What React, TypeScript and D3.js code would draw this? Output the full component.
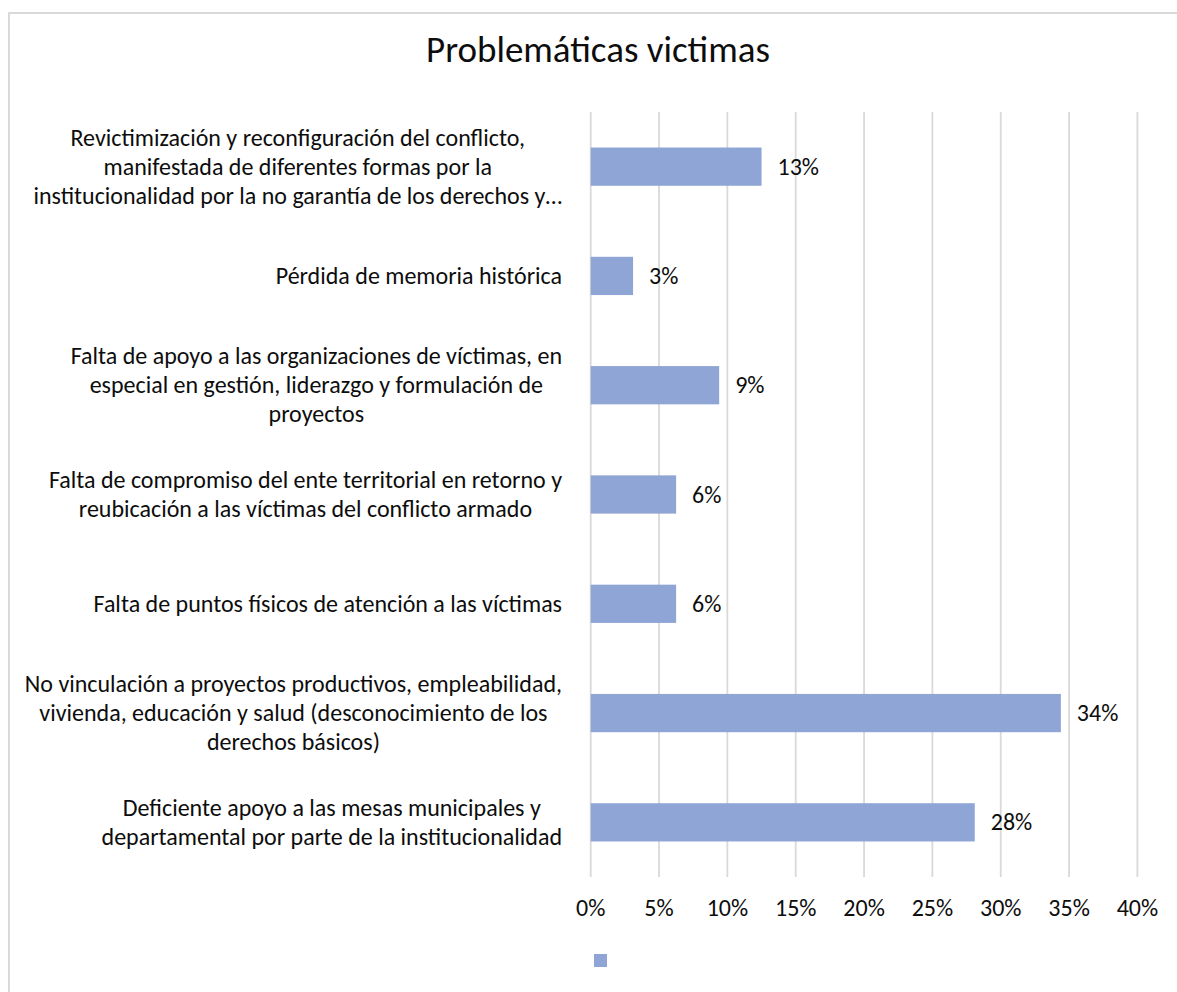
import React, { useRef, useEffect } from 'react';
import * as d3 from 'd3';

const title = 'Problemáticas victimas';

// each category is kept as the wrapped lines shown on the chart
const categories = [
  ['Revictimización y reconfiguración del conflicto,', 'manifestada de diferentes formas por la', 'institucionalidad por la no garantía de los derechos y…'],
  ['Pérdida de memoria histórica'],
  ['Falta de apoyo a las organizaciones de víctimas, en', 'especial en gestión, liderazgo y formulación de', 'proyectos'],
  ['Falta de compromiso del ente territorial en retorno y', 'reubicación a las víctimas del conflicto armado'],
  ['Falta de puntos físicos de atención a las víctimas'],
  ['No vinculación a proyectos productivos, empleabilidad,', 'vivienda, educación y salud (desconocimiento de los', 'derechos básicos)'],
  ['Deficiente apoyo a las mesas municipales y', 'departamental por parte de la institucionalidad'],
];

const values = [12.5, 3.1, 9.4, 6.25, 6.25, 34.4, 28.1];

const xTicks = [0, 5, 10, 15, 20, 25, 30, 35, 40];

const FONT = 'Carlito, Calibri, Lato, sans-serif';
const TEXT = '#0d0d0d';
const GRID = '#d9d9d9';
const BAR = '#8fa5d5';

const App = () => {
  const svgRef = useRef(null);

  useEffect(() => {
    const width = 1177;
    const height = 992;
    const svg = d3.select(svgRef.current).attr('width', width).attr('height', height);
    svg.selectAll('*').remove();

    const plotTop = 112;
    const plotBottom = 877;

    const x = d3.scaleLinear().domain([0, 40]).range([590.7, 1137.4]);
    const y = d3.scaleBand<number>()
      .domain(d3.range(categories.length))
      .range([plotTop, plotBottom])
      .paddingInner(0.65)
      .paddingOuter(0.325);

    // chart frame
    svg.append('rect')
      .attr('x', 9).attr('y', 13)
      .attr('width', 1185).attr('height', 1000)
      .attr('fill', '#fff')
      .attr('stroke', GRID)
      .attr('stroke-width', 2);

    svg.append('text')
      .attr('x', 598)
      .attr('y', 62)
      .attr('text-anchor', 'middle')
      .attr('font-family', FONT)
      .attr('font-size', 37)
      .attr('fill', TEXT)
      .text(title);

    // vertical gridlines
    svg.append('g')
      .selectAll('line')
      .data(xTicks)
      .enter()
      .append('line')
      .attr('x1', d => x(d)).attr('x2', d => x(d))
      .attr('y1', plotTop).attr('y2', plotBottom)
      .attr('stroke', GRID)
      .attr('stroke-width', 1.8);

    // tick labels
    svg.append('g')
      .selectAll('text')
      .data(xTicks)
      .enter()
      .append('text')
      .attr('x', d => x(d))
      .attr('y', 916)
      .attr('text-anchor', 'middle')
      .attr('font-family', FONT)
      .attr('font-size', 24)
      .attr('fill', TEXT)
      .text(d => `${d}%`);

    // bars
    svg.append('g')
      .selectAll('rect')
      .data(values)
      .enter()
      .append('rect')
      .attr('x', x(0))
      .attr('y', (d, i) => y(i))
      .attr('width', d => x(d) - x(0))
      .attr('height', y.bandwidth())
      .attr('fill', BAR);

    // value labels
    svg.append('g')
      .selectAll('text')
      .data(values)
      .enter()
      .append('text')
      .attr('x', d => x(d) + 16)
      .attr('y', (d, i) => y(i) + y.bandwidth() / 2 + 8)
      .attr('font-family', FONT)
      .attr('font-size', 24)
      .attr('fill', TEXT)
      .text(d => `${Math.round(d)}%`);

    // category labels: lines centred in a block that is right aligned
    const labelRight = 562;
    const lineGap = 29;
    categories.forEach((lines, i) => {
      const cy = y(i) + y.bandwidth() / 2;
      const g = svg.append('g');
      const texts = g.selectAll('text')
        .data(lines)
        .enter()
        .append('text')
        .attr('x', 0)
        .attr('y', (d, j) => cy + 8 + (j - (lines.length - 1) / 2) * lineGap)
        .attr('text-anchor', 'middle')
        .attr('font-family', FONT)
        .attr('font-size', 24)
        .attr('fill', TEXT)
        .text(d => d);
      let maxW = 0;
      texts.each(function () {
        maxW = Math.max(maxW, (this as SVGTextElement).getComputedTextLength());
      });
      g.attr('transform', `translate(${labelRight - maxW / 2},0)`);
    });

    // legend (series without a name)
    svg.append('rect')
      .attr('x', 594).attr('y', 954)
      .attr('width', 13).attr('height', 13)
      .attr('fill', BAR);
  }, []);

  return (
    <div>
      <svg ref={svgRef} style={{ position: 'absolute', left: 0, top: 0, display: 'block' }}></svg>
    </div>
  );
};

export default App;
